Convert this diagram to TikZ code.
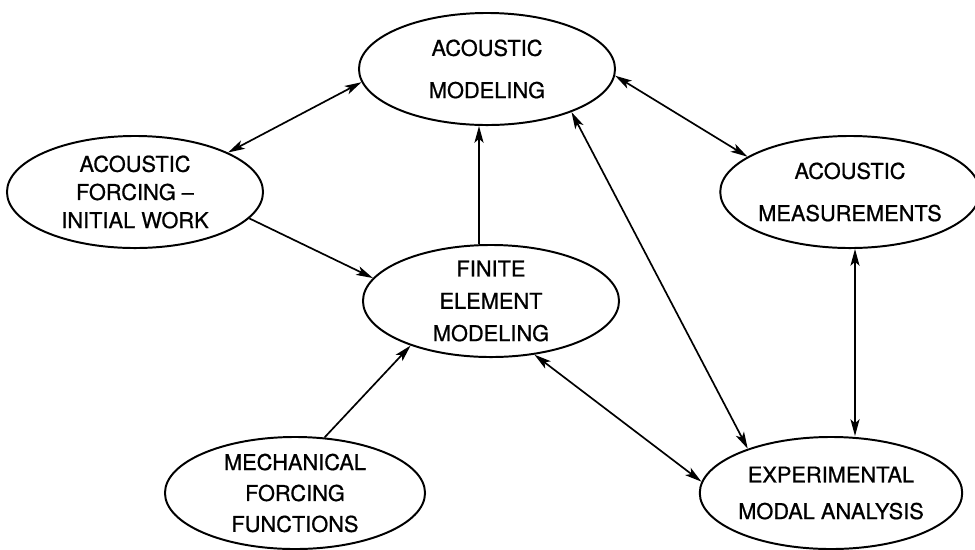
\documentclass[tikz,border=0pt]{standalone}
\usepackage{fontspec}
\setmainfont{TeX Gyre Heros}
\newfontfamily\lettering[FakeBold=0.8,Ligatures=TeX]{TeX Gyre Heros}
\usetikzlibrary{shapes.geometric,arrows.meta}

\tikzset{
  bubble/.style={ellipse, draw, line width=1.4pt, minimum width=6.4cm,
    minimum height=2.8cm, inner xsep=0pt, inner ysep=-8pt, align=center,
    font=\lettering\fontsize{15.5}{20}\selectfont},
  link/.style={line width=1.2pt, -{Stealth[length=12pt,width=6.5pt,inset=3pt]}},
  both/.style={line width=1.2pt,
    {Stealth[length=12pt,width=6.5pt,inset=3pt]}-{Stealth[length=12pt,width=6.5pt,inset=3pt]}}
}

\begin{document}
\begin{tikzpicture}[x=0.025cm,y=-0.025cm]
\useasboundingbox (0,0) rectangle (975,549);

\node[bubble] (acmod) at (487,69) {ACOUSTIC\\[10pt]MODELING};
\node[bubble] (acforce) at (135,192) {ACOUSTIC\\FORCING --\\INITIAL WORK};
\node[bubble, minimum width=6.25cm] (acmeas) at (850,192) {ACOUSTIC\\[10pt]MEASUREMENTS};
\node[bubble] (fem) at (491,301) {FINITE\\[3pt]ELEMENT\\[3pt]MODELING};
\node[bubble, minimum width=6.5cm] (mechforce) at (295,493) {MECHANICAL\\[2pt]FORCING\\[2pt]FUNCTIONS};
\node[bubble] (expmodal) at (831,493) {EXPERIMENTAL\\[6pt]MODAL ANALYSIS};

\draw[both] (acforce.23) -- (acmod.186);
\draw[link] (acforce.-13) -- (fem.169);
\draw[link] ([xshift=-0.3cm]fem.north) -- ([xshift=-0.2cm]acmod.south);
\draw[both] (acmod.-3) -- (acmeas.161);
\draw[both] (acmod.-27) -- (expmodal.152);
\draw[both] ([xshift=0.125cm]acmeas.south) -- ([xshift=0.6cm]expmodal.north);
\draw[both] (fem.-51) -- (expmodal.175);
\draw[link] (mechforce.62) -- (fem.209);
\end{tikzpicture}
\end{document}
